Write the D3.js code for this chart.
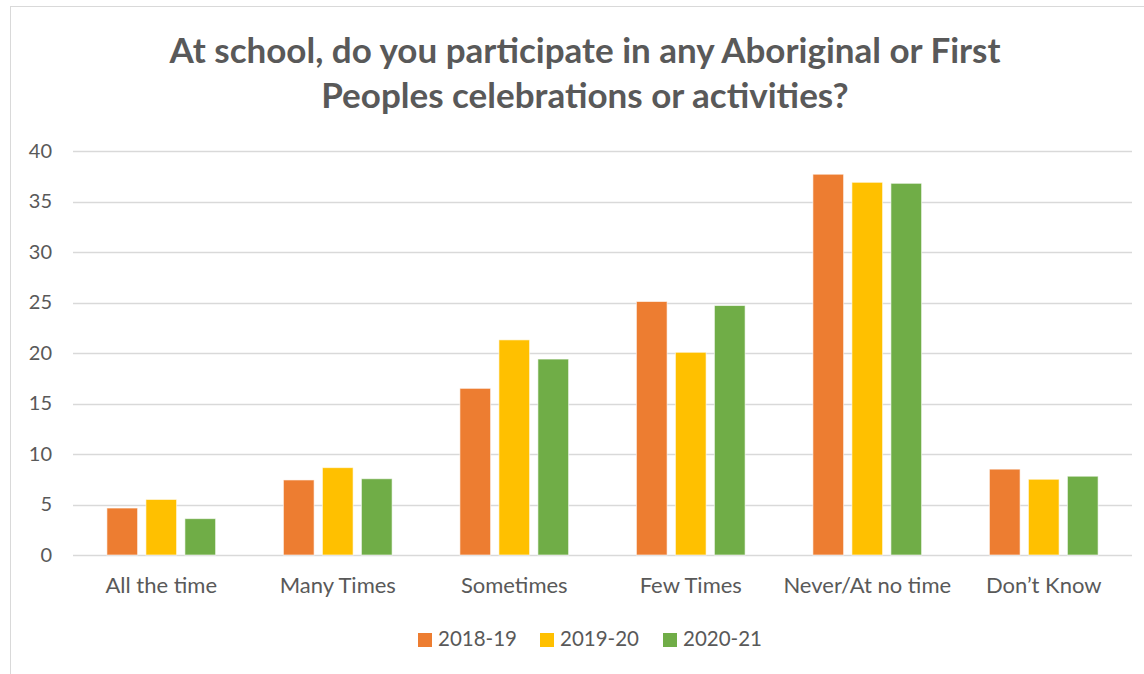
<!DOCTYPE html>
<html>
<head>
<meta charset="utf-8">
<script src="https://cdn.jsdelivr.net/npm/d3@7"></script>
<style>
  html, body { margin: 0; padding: 0; background: #fff; }
  svg { display: block; }
  text { font-family: Lato, "Open Sans", sans-serif; fill: #595959; }
</style>
</head>
<body>
<svg id="chart" width="1144" height="674"></svg>
<script>
// Survey responses (% of students) by school year
const categories = ["All the time", "Many Times", "Sometimes", "Few Times", "Never/At no time", "Don\u2019t Know"];
const seriesNames = ["2018-19", "2019-20", "2020-21"];
const values2018 = [4.65, 7.43, 16.5, 25.1, 37.7, 8.5];
const values2019 = [5.5, 8.65, 21.3, 20.07, 36.9, 7.5];
const values2020 = [3.6, 7.55, 19.4, 24.7, 36.8, 7.8];
const yTicks = [0, 5, 10, 15, 20, 25, 30, 35, 40];
const colors = ["#ED7D31", "#FFC000", "#70AD47"];
const titleLines = ["At school, do you participate in any Aboriginal or First", "Peoples celebrations or activities?"];

const seriesValues = [values2018, values2019, values2020];

const svg = d3.select("#chart");

// chart frame
svg.append("rect")
  .attr("x", 10.5).attr("y", 6.5)
  .attr("width", 1160).attr("height", 700)
  .attr("fill", "none").attr("stroke", "#D9D9D9").attr("stroke-width", 1);

const plot = { left: 73, right: 1132, top: 151, bottom: 555 };

const x0 = d3.scaleBand().domain(categories).range([plot.left, plot.right]).padding(0);
const groupPad = 33.9;
const x1 = d3.scaleBand().domain(seriesNames)
  .range([groupPad, x0.bandwidth() - groupPad])
  .paddingInner(0.213).paddingOuter(0);
const y = d3.scaleLinear().domain([0, 40]).range([plot.bottom, plot.top]);

// gridlines
svg.append("g")
  .selectAll("line").data(yTicks).join("line")
  .attr("x1", plot.left).attr("x2", plot.right)
  .attr("y1", d => Math.round(y(d)) + 0.5).attr("y2", d => Math.round(y(d)) + 0.5)
  .attr("stroke", "#D9D9D9").attr("stroke-width", 1.5);

// y axis labels
const yAxis = d3.axisLeft(y).tickValues(yTicks).tickSize(0).tickPadding(0);
const gy = svg.append("g").attr("transform", `translate(52,0)`).call(yAxis);
gy.select(".domain").remove();
gy.selectAll("text")
  .attr("font-size", 20).attr("fill", "#595959")
  .style("font-family", "Lato, 'Open Sans', sans-serif");

// bars
const rows = categories.map((c, i) => ({ cat: c, vals: seriesNames.map((s, j) => ({ s, j, v: seriesValues[j][i] })) }));
svg.append("g").selectAll("g").data(rows).join("g")
  .attr("transform", d => `translate(${x0(d.cat)},0)`)
  .selectAll("rect").data(d => d.vals).join("rect")
  .attr("x", d => x1(d.s))
  .attr("width", x1.bandwidth())
  .attr("y", d => y(d.v))
  .attr("height", d => y(0) - y(d.v))
  .attr("fill", d => colors[d.j])
  .attr("stroke", "#ffffff").attr("stroke-opacity", 0.6).attr("stroke-width", 1);

// category labels
const xAxis = d3.axisBottom(x0).tickSize(0).tickPadding(0);
const gx = svg.append("g").attr("transform", `translate(0,${plot.bottom})`).call(xAxis);
gx.select(".domain").remove();
gx.selectAll("text")
  .attr("y", 38).attr("dy", 0)
  .attr("font-size", 22).attr("fill", "#595959")
  .style("font-family", "Lato, 'Open Sans', sans-serif");

// title
svg.append("g").selectAll("text").data(titleLines).join("text")
  .attr("x", 585).attr("y", (d, i) => 63 + i * 45)
  .attr("text-anchor", "middle")
  .attr("font-size", 35).attr("font-weight", "bold")
  .text(d => d);

// legend
const legendX = [418, 540, 663];
const legend = svg.append("g").selectAll("g").data(seriesNames).join("g")
  .attr("transform", (d, i) => `translate(${legendX[i]},633)`);
legend.append("rect").attr("width", 14).attr("height", 14).attr("fill", (d, i) => colors[i]);
legend.append("text").attr("x", 20).attr("y", 13).attr("font-size", 20.5).text(d => d);
</script>
</body>
</html>
